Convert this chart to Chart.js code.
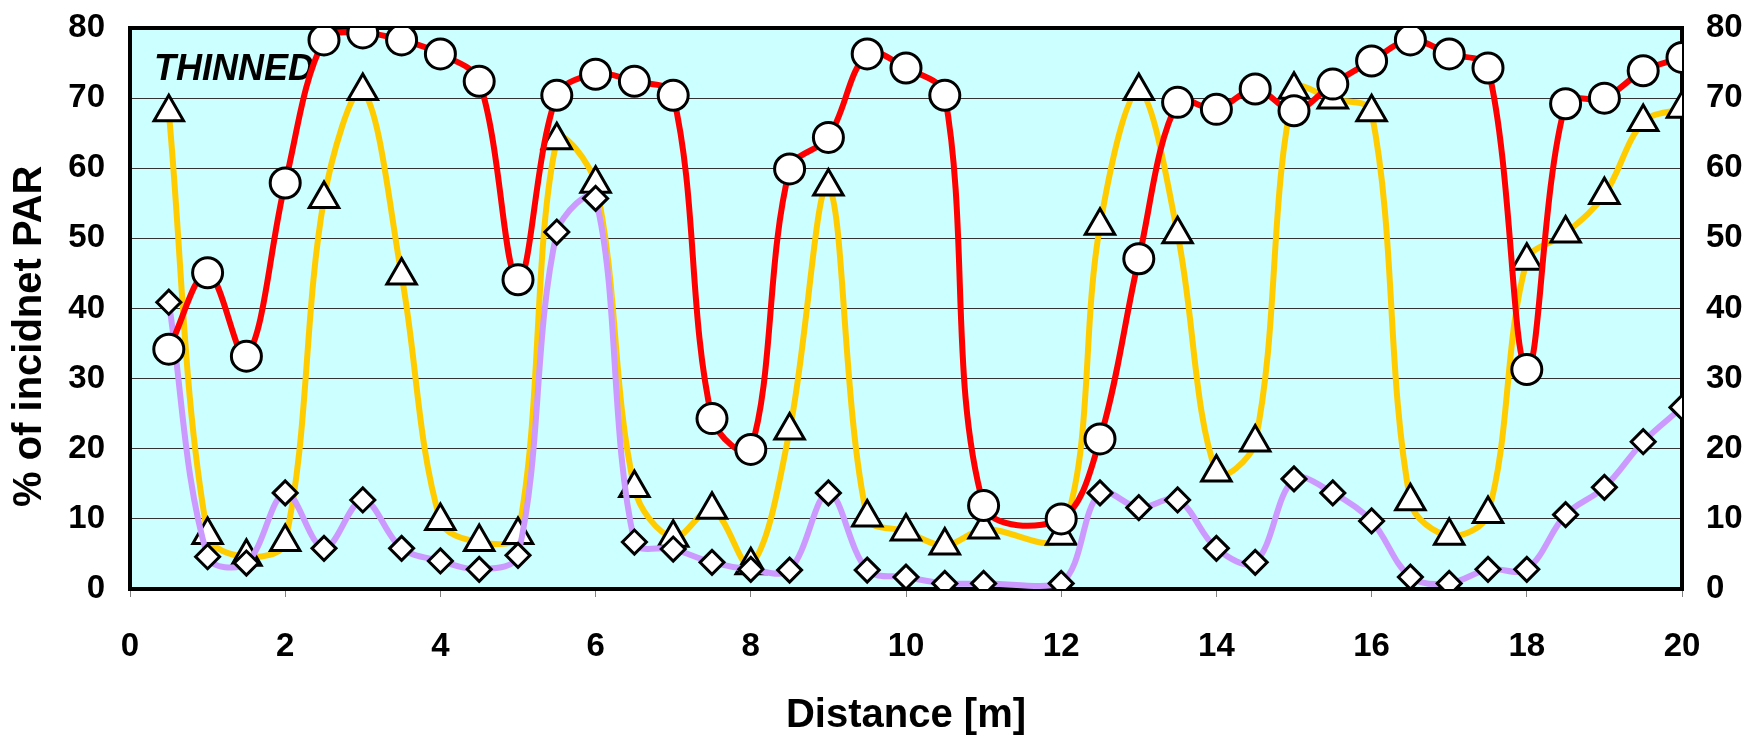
<!DOCTYPE html>
<html>
<head>
<meta charset="utf-8">
<script src="https://cdn.jsdelivr.net/npm/chart.js@4/dist/chart.umd.min.js"></script>
<style>
  html, body { margin: 0; padding: 0; background: #fff; }
  canvas { display: block; }
</style>
</head>
<body>
<canvas id="chart" width="1745" height="740"></canvas>
<script>
// distances along the transect (no reading at 11.5 m)
const distance = [0.5, 1, 1.5, 2, 2.5, 3, 3.5, 4, 4.5, 5, 5.5, 6, 6.5, 7, 7.5, 8, 8.5, 9, 9.5, 10,
  10.5, 11, 12, 12.5, 13, 13.5, 14, 14.5, 15, 15.5, 16, 16.5, 17, 17.5, 18, 18.5, 19, 19.5, 20];

// % of incident PAR, three series
const circleSeries = [34.2, 45.1, 33.2, 57.9, 78.3, 79.3, 78.3, 76.3, 72.4, 44.1,
  70.4, 73.4, 72.4, 70.4, 24.3, 19.9, 59.9, 64.4, 76.3, 74.3,
  70.4, 11.9, 10.0, 21.4, 47.1, 69.4, 68.4, 71.3, 68.2, 72.0,
  75.3, 78.3, 76.3, 74.3, 31.3, 69.2, 70.0, 73.9, 75.8];
const triangleSeries = [68.0, 7.7, 4.6, 6.7, 55.6, 71.0, 44.7, 9.7, 6.7, 7.7,
  64.0, 57.8, 14.4, 7.3, 11.3, 3.4, 22.6, 57.4, 10.2, 8.2,
  6.2, 8.5, 7.6, 51.8, 71.0, 50.6, 16.6, 20.9, 71.2, 69.8,
  68.0, 12.5, 7.6, 10.7, 46.8, 50.7, 56.2, 66.6, 68.5];
const diamondSeries = [40.9, 4.6, 3.7, 13.7, 5.8, 12.7, 5.8, 4.0, 2.8, 4.8,
  50.9, 55.7, 6.7, 5.7, 3.8, 2.8, 2.7, 13.7, 2.7, 1.7,
  0.8, 0.8, 0.8, 13.7, 11.6, 12.7, 5.8, 3.8, 15.7, 13.7,
  9.7, 1.7, 0.8, 2.8, 2.8, 10.6, 14.5, 21.0, 25.9];

const FONT = "'Liberation Sans', Arial, Helvetica, sans-serif";
const tickFont = { family: FONT, size: 33, weight: "bold" };
const titleFont = { family: FONT, size: 40, weight: "bold" };

function toPoints(values) {
  return distance.map((d, i) => ({ x: d, y: values[i] }));
}

// light cyan plot area, thick black frame and the panel label
const plotFrame = {
  id: "plotFrame",
  beforeDraw(chart) {
    const { ctx, chartArea: a } = chart;
    ctx.save();
    ctx.fillStyle = "#ccffff";
    ctx.fillRect(a.left, a.top, a.right - a.left, a.bottom - a.top);
    ctx.restore();
  },
  beforeDatasetsDraw(chart) {
    const { ctx, chartArea: a } = chart;
    ctx.save();
    ctx.strokeStyle = "#000";
    ctx.lineWidth = 4;
    ctx.strokeRect(a.left, a.top, a.right - a.left, a.bottom - a.top);
    ctx.fillStyle = "#000";
    ctx.font = "italic bold 36px " + FONT;
    ctx.textBaseline = "alphabetic";
    ctx.fillText("THINNED", a.left + 24, a.top + 52);
    ctx.restore();
  },
};

const marker = {
  pointBackgroundColor: "#fff",
  pointBorderColor: "#000",
  pointHoverRadius: 0,
  borderWidth: 6,
  fill: false,
  tension: 0.35,
};

new Chart(document.getElementById("chart"), {
  type: "line",
  data: {
    datasets: [
      {
        ...marker,
        label: "circles",
        data: toPoints(circleSeries),
        borderColor: "#ff0000",
        pointStyle: "circle",
        pointRadius: 15,
        pointBorderWidth: 3,
      },
      {
        ...marker,
        label: "diamonds",
        data: toPoints(diamondSeries),
        borderColor: "#cc99ff",
        pointStyle: "rectRot",
        pointRadius: 12,
        pointBorderWidth: 3,
      },
      {
        ...marker,
        label: "triangles",
        data: toPoints(triangleSeries),
        borderColor: "#ffcc00",
        pointStyle: "triangle",
        pointRadius: 17,
        pointBorderWidth: 3,
      },
    ],
  },
  options: {
    responsive: false,
    devicePixelRatio: 1,
    animation: false,
    layout: { padding: { top: 28, left: 0, right: 0, bottom: 0 } },
    plugins: {
      legend: { display: false },
      tooltip: { enabled: false },
    },
    scales: {
      x: {
        type: "linear",
        min: 0,
        max: 20,
        afterFit: (a) => { a.height = 151; },
        ticks: { stepSize: 2, color: "#000", font: tickFont, padding: 30 },
        grid: { drawOnChartArea: false, color: "#808080", tickLength: 8 },
        border: { display: false },
        title: { display: true, text: "Distance [m]", color: "#000", font: titleFont, padding: 0 },
      },
      y: {
        position: "left",
        min: 0,
        max: 80,
        afterFit: (a) => { a.width = 130; },
        ticks: { stepSize: 10, color: "#000", font: tickFont, padding: 0 },
        grid: { color: "#333", lineWidth: 1, tickLength: 25, tickColor: "transparent" },
        border: { display: false },
        title: { display: true, text: "% of incidnet PAR     ", color: "#000", font: titleFont, padding: { top: 6, bottom: 0 } },
      },
      y2: {
        position: "right",
        min: 0,
        max: 80,
        afterFit: (a) => { a.width = 63; },
        ticks: { stepSize: 10, color: "#000", font: tickFont, padding: 0 },
        grid: { display: false, tickLength: 24 },
        border: { display: false },
      },
    },
  },
  plugins: [plotFrame],
});
</script>
</body>
</html>
